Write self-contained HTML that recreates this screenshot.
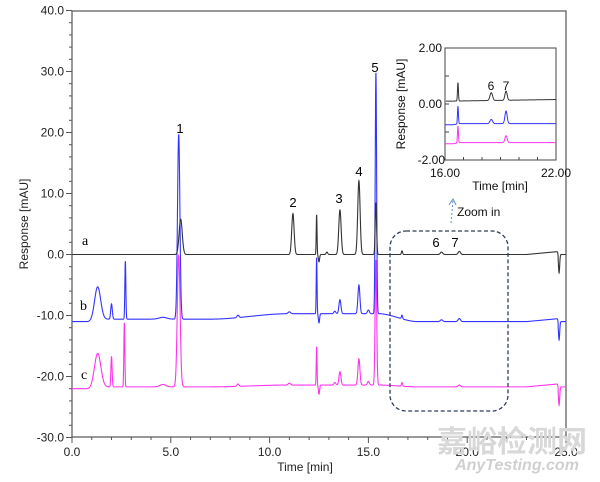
<!DOCTYPE html>
<html><head><meta charset="utf-8"><style>
body{margin:0;background:#fff;}
svg{display:block;font-family:"Liberation Sans",Arial,sans-serif;}
</style></head><body>
<svg id="s" width="600" height="482" viewBox="0 0 600 482" xmlns="http://www.w3.org/2000/svg">
<rect width="600" height="482" fill="#fff"/>
<g id="grid"></g>
<rect x="72" y="11" width="494" height="426" fill="none" stroke="#555" stroke-width="1.2"/>
<g id="main"></g>
<g font-size="13" fill="#000" font-family="Liberation Sans, sans-serif">
<text x="180" y="133" text-anchor="middle">1</text>
<text x="293" y="207" text-anchor="middle">2</text>
<text x="339" y="203" text-anchor="middle">3</text>
<text x="359" y="176" text-anchor="middle">4</text>
<text x="375" y="72" text-anchor="middle">5</text>
<text x="436" y="247" text-anchor="middle">6</text>
<text x="455" y="247" text-anchor="middle">7</text>
</g>
<g font-size="14" font-family="Liberation Serif, serif">
<text x="82" y="245">a</text>
<text x="80" y="310">b</text>
<text x="81" y="379">c</text>
</g>
<rect x="390" y="231" width="118" height="180" rx="16" fill="none" stroke="#2f3f55" stroke-width="1.3" stroke-dasharray="4,2.5"/>
<text x="305" y="471" font-size="12" fill="#222" text-anchor="middle">Time [min]</text>
<text transform="translate(28,224) rotate(-90)" font-size="12" fill="#222" text-anchor="middle">Response [mAU]</text>
<!-- inset -->
<rect x="445" y="48" width="111" height="112" fill="#fff" stroke="#444" stroke-width="1"/>
<g id="inset"></g>
<g font-size="12" fill="#111">
<text x="442" y="52" text-anchor="end">2.00</text>
<text x="442" y="108" text-anchor="end">0.00</text>
<text x="445" y="164" text-anchor="end">-2.00</text>
<text x="445" y="177" text-anchor="middle">16.00</text>
<text x="556" y="177" text-anchor="middle">22.00</text>
<text x="500" y="190" text-anchor="middle">Time [min]</text>
<text transform="translate(405,104) rotate(-90)" text-anchor="middle">Response [mAU]</text>
<text x="491" y="90" text-anchor="middle" font-size="12">6</text>
<text x="506" y="90" text-anchor="middle" font-size="12">7</text>
<text x="457" y="216" font-size="12">Zoom in</text>
</g>
<line x1="451" y1="223" x2="453" y2="200" stroke="#5b8fd0" stroke-width="1" stroke-dasharray="2,2"/>
<path d="M449,205 L453,199 L456,205" fill="none" stroke="#5b8fd0" stroke-width="1"/>
<text x="512" y="452" font-size="30" fill="#d8d8d8" font-family="Noto Sans CJK SC, sans-serif" text-anchor="middle" font-weight="bold">嘉峪检测网</text>
<text x="517" y="470" font-size="16" fill="#d0d0d0" font-style="italic" text-anchor="middle" font-weight="bold">AnyTesting.com</text>
</svg>
<script>
const NS="http://www.w3.org/2000/svg";
function el(p,t,a,txt){const e=document.createElementNS(NS,t);for(const k in a)e.setAttribute(k,a[k]);if(txt!==undefined)e.textContent=txt;p.appendChild(e);return e;}
const X=t=>72+t*19.76, Y=v=>254.5-v*6.1;
const g=document.getElementById('grid'), m=document.getElementById('main');
for(let v=-30;v<=40;v+=2){const y=Y(v);const maj=v%10==0;el(g,'line',{x1:maj?66:69,x2:72,y1:y,y2:y,stroke:'#555','stroke-width':1});}
for(let v=-30;v<=40;v+=10){el(g,'text',{x:64,y:Y(v)+4,'font-size':12,'text-anchor':'end',fill:'#222'},v.toFixed(1));}
for(let t=0;t<=25;t+=1){const x=X(t);const maj=t%5==0;el(g,'line',{x1:x,x2:x,y1:437,y2:maj?443:440,stroke:'#555','stroke-width':1});}
for(let t=0;t<=25;t+=5){el(g,'text',{x:X(t),y:456,'font-size':12,'text-anchor':'middle',fill:'#222'},t.toFixed(1));}
function gs(t,c,h,w){return h*Math.exp(-0.5*((t-c)/w)**2);}
function series(base,peaks,t){let v=base(t);for(const p of peaks)v+=gs(t,p[0],p[1],p[2]);return v;}
const sm=(t,a,b)=>{const u=Math.min(1,Math.max(0,(t-a)/(b-a)));return u*u*(3-2*u);};
const A=[[5.5,5.8,0.08],[11.18,6.7,0.06],[12.38,6.5,0.02],[12.5,-1.2,0.03],[12.9,0.4,0.04],[13.56,7.3,0.06],[14.52,12.1,0.06],[15.38,8.5,0.035],[16.7,0.6,0.03],[18.7,0.4,0.06],[19.6,0.5,0.06],[24.65,-3,0.03]];
const B=[[1.3,5.3,0.15],[2.0,2.5,0.04],[2.7,9.5,0.025],[4.6,0.3,0.2],[5.4,30.3,0.06],[8.4,0.4,0.05],[11.0,0.3,0.06],[12.38,9.2,0.02],[12.5,-1.5,0.03],[13.3,0.4,0.05],[13.56,2.3,0.05],[14.52,4.7,0.05],[15.0,0.6,0.05],[15.38,39.5,0.035],[16.7,0.6,0.03],[18.7,0.3,0.06],[19.6,0.5,0.06],[24.65,-3,0.03]];
const C=[[1.3,5.5,0.16],[2.0,5,0.03],[2.65,10.5,0.025],[4.6,0.4,0.15],[5.4,21.5,0.07],[8.4,0.4,0.05],[11.0,0.3,0.06],[12.38,6.3,0.02],[12.5,-1.5,0.03],[13.3,0.4,0.05],[13.56,2.2,0.05],[14.52,4.3,0.05],[15.0,0.6,0.05],[15.38,20.5,0.04],[16.7,0.6,0.03],[19.6,0.3,0.06],[24.65,-3,0.03]];
const ramp=t=>(t>23&&t<24.6)?(t-23)*0.3:0;
const bA=t=>ramp(t);
const bB=t=>-11+0.4*sm(t,0.8,1.2)+0.9*sm(t,7,11)-1.3*sm(t,15.5,17.5)+ramp(t);
const bC=t=>-22+0.3*sm(t,0.8,1.2)+0.3*sm(t,7,11)-0.3*sm(t,15.5,17.5)+ramp(t);
function path(base,peaks,X,Y,t0,t1,dt){let d='';for(let t=t0;t<=t1+1e-9;t+=dt){d+=(d?'L':'M')+X(t).toFixed(2)+','+Y(series(base,peaks,t)).toFixed(2);}return d;}
const dt=0.005;
el(m,'path',{d:path(bC,C,X,Y,0,25,dt),fill:'none',stroke:'#ff33ee','stroke-width':1.1});
el(m,'path',{d:path(bB,B,X,Y,0,25,dt),fill:'none',stroke:'#3333ff','stroke-width':1.1});
el(m,'path',{d:path(bA,A,X,Y,0,25,dt),fill:'none',stroke:'#333','stroke-width':1.1});
// inset
const ins=document.getElementById('inset');
const XI=t=>445+(t-16)*111/6, YI=v=>104-v*28;
for(let t=16;t<=22;t+=1){el(ins,'line',{x1:XI(t),x2:XI(t),y1:160,y2:157,stroke:'#444'});}
[-2,-1,0,1,2].forEach(v=>el(ins,'line',{x1:445,x2:449,y1:YI(v),y2:YI(v),stroke:'#444'}));
const iA=[[16.7,0.66,0.025],[18.5,0.28,0.07],[19.3,0.33,0.06]];
const iB=[[16.7,0.63,0.025],[18.5,0.15,0.07],[19.3,0.45,0.06]];
const iC=[[16.7,0.6,0.025],[19.3,0.25,0.06]];
el(ins,'path',{d:path(t=>-1.42+0.04*sm(t,16.4,16.8),iC,XI,YI,16,22,0.01),fill:'none',stroke:'#ff33ee','stroke-width':1});
el(ins,'path',{d:path(t=>-0.74+0.04*sm(t,16.4,16.8),iB,XI,YI,16,22,0.01),fill:'none',stroke:'#3333ff','stroke-width':1});
el(ins,'path',{d:path(t=>0.1+0.01*(t-16),iA,XI,YI,16.05,22,0.01),fill:'none',stroke:'#333','stroke-width':1});
</script>
</body></html>
